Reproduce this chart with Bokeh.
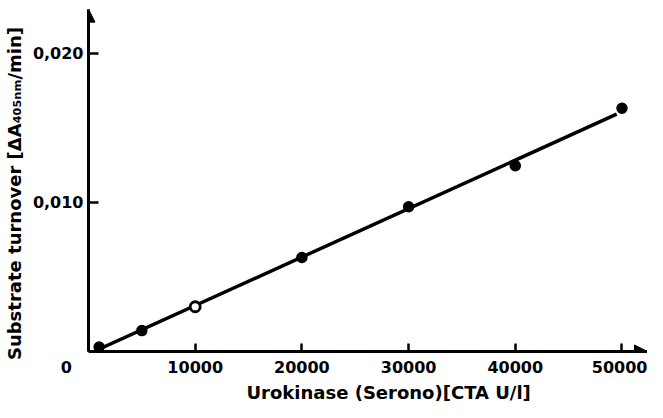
from bokeh.plotting import figure
from bokeh.models import Range1d, FixedTicker, Arrow, NormalHead, Title
from bokeh.embed import file_html
from bokeh.resources import INLINE

# Data
x_filled = [1000, 5000, 20000, 30000, 40000, 50000]
y_filled = [0.0003, 0.0014, 0.0063, 0.0097, 0.01245, 0.0163]
x_open = [10000]
y_open = [0.0030]
x_fit = [500, 49500]
y_fit = [0.0, 0.0159]

x_ticks = [0, 10000, 20000, 30000, 40000, 50000]
# the origin "0" sits left of the axis: trailing figure spaces shift it left
x_tick_labels = {0: "0\u2007\u2007\u2007\u2007"}
y_ticks = [0.010, 0.020]
y_tick_labels = {0.01: "0,010", 0.02: "0,020"}

x_title = "Urokinase (Serono)[CTA U/l]"
y_title = "Substrate turnover [\u0394A\u2084\u2080\u2085\u2099\u2098/min]\u00a0\u00a0\u00a0\u00a0"

FONT = "DejaVu Sans"
Y_TOP = 0.02285
X_END = 52390

p = figure(width=647, height=402, output_backend="svg", toolbar_location=None,
           x_range=Range1d(0, X_END), y_range=Range1d(0, Y_TOP),
           min_border_left=88, min_border_right=0, min_border_top=10, min_border_bottom=0)
p.outline_line_color = None
p.xgrid.visible = False
p.ygrid.visible = False
p.background_fill_color = "white"

for ax in (p.xaxis[0], p.yaxis[0]):
    ax.axis_line_width = 3
    ax.axis_line_color = "black"
    ax.major_tick_line_width = 2.5
    ax.major_tick_line_color = "black"
    ax.major_tick_out = 0
    ax.minor_tick_line_color = None
    ax.major_label_text_font = FONT
    ax.major_label_text_font_style = "bold"
    ax.major_label_text_font_size = "16px"
    ax.major_label_text_color = "black"

p.xaxis.ticker = FixedTicker(ticks=x_ticks)
p.xaxis.major_tick_in = 8
p.xaxis.major_label_standoff = 6
p.xaxis.major_label_overrides = x_tick_labels
p.yaxis.ticker = FixedTicker(ticks=y_ticks)
p.yaxis.major_tick_in = 10
p.yaxis.major_label_standoff = 5
p.yaxis.major_label_overrides = y_tick_labels
p.yaxis.axis_label = y_title
p.yaxis.axis_label_text_font = FONT
p.yaxis.axis_label_text_font_style = "bold"
p.yaxis.axis_label_text_font_size = "18px"
p.yaxis.axis_label_text_color = "black"
p.yaxis.axis_label_standoff = 5

p.add_layout(Title(text=x_title, align="left", offset=158, standoff=0, text_color="black",
                   text_font=FONT, text_font_style="bold", text_font_size="18px"), "below")

# fitted line and points
p.line(x_fit, y_fit, line_width=3.5, line_color="black")
p.scatter(x_filled, y_filled, size=10, fill_color="black", line_color="black", line_width=1.5)
p.scatter(x_open, y_open, size=10, fill_color="white", line_color="black", line_width=2.8)

# axis arrows
p.add_layout(Arrow(end=NormalHead(size=13, fill_color="black", line_color="black"),
                   x_start=0, y_start=0.020, x_end=0, y_end=Y_TOP * 1.004,
                   line_width=3, line_color="black"))
p.add_layout(Arrow(end=NormalHead(size=13, fill_color="black", line_color="black"),
                   x_start=50000, y_start=0, x_end=X_END, y_end=0,
                   line_width=3, line_color="black"))

open("out.html", "w").write(file_html(p, INLINE))
